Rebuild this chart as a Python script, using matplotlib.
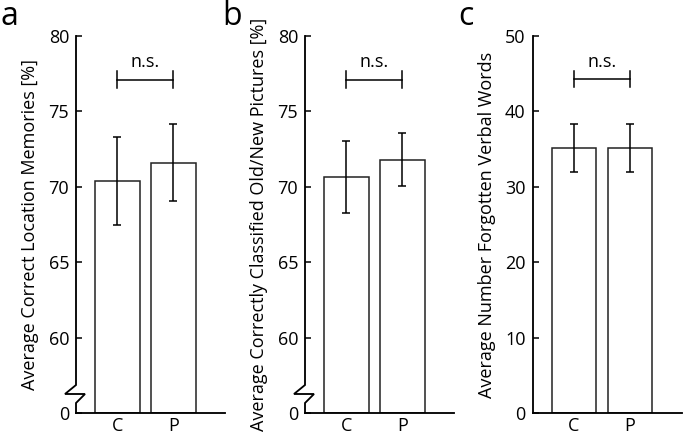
import matplotlib
matplotlib.use("Agg")
import matplotlib.pyplot as plt
import matplotlib.transforms as mtransforms

plt.rcParams['font.family'] = ['Open Sans', 'DejaVu Sans']

categories = ['C', 'P']

# Panel a
a_means = [70.4, 71.6]
a_errs = [2.9, 2.55]
a_ticks = [55, 60, 65, 70, 75, 80]
a_ticklabels = ['0', '60', '65', '70', '75', '80']
a_ylabel = 'Average Correct Location Memories [%]'
a_sig_y = 77.1

# Panel b
b_means = [70.65, 71.8]
b_errs = [2.4, 1.77]
b_ticks = [55, 60, 65, 70, 75, 80]
b_ticklabels = ['0', '60', '65', '70', '75', '80']
b_ylabel = 'Average Correctly Classified Old/New Pictures [%]'
b_sig_y = 77.1

# Panel c
c_means = [35.15, 35.1]
c_errs = [3.2, 3.2]
c_ticks = [0, 10, 20, 30, 40, 50]
c_ticklabels = ['0', '10', '20', '30', '40', '50']
c_ylabel = 'Average Number Forgotten Verbal Words'
c_sig_y = 44.3

W, H = 684, 436
fig = plt.figure(figsize=(W / 100, H / 100), dpi=100)

panels = [
    dict(letter='a', left=76, lx=0, means=a_means, errs=a_errs, ticks=a_ticks,
         labels=a_ticklabels, ylabel=a_ylabel, sig=a_sig_y, ylim=(55, 80), brk=True, cap=0.55),
    dict(letter='b', left=305, lx=222, means=b_means, errs=b_errs, ticks=b_ticks,
         labels=b_ticklabels, ylabel=b_ylabel, sig=b_sig_y, ylim=(55, 80), brk=True, cap=0.55),
    dict(letter='c', left=532.5, lx=458, means=c_means, errs=c_errs, ticks=c_ticks,
         labels=c_ticklabels, ylabel=c_ylabel, sig=c_sig_y, ylim=(0, 50), brk=False, cap=1.1),
]

ax_w = 149
ax_top = 36
ax_bot = 413
lw = 1.1
fs = 13

for p in panels:
    ax = fig.add_axes([p['left'] / W, (H - ax_bot) / H, ax_w / W, (ax_bot - ax_top) / H])
    x = [1, 2]
    y0 = p['ylim'][0]
    heights = [m - y0 for m in p['means']]
    ax.bar(x, heights, bottom=y0, width=0.8, color='white', edgecolor='#222222',
           linewidth=lw, zorder=2)
    ax.errorbar(x, p['means'], yerr=p['errs'], fmt='none', ecolor='black',
                elinewidth=lw, capsize=3.2, capthick=lw, zorder=3)
    # significance bracket
    ax.plot([x[0], x[1]], [p['sig'], p['sig']], color='black', lw=lw, clip_on=False)
    for xi in x:
        ax.plot([xi, xi], [p['sig'] - p['cap'], p['sig'] + p['cap']], color='black',
                lw=lw, clip_on=False)
    ax.text((x[0] + x[1]) / 2, p['sig'] + (p['ylim'][1] - p['ylim'][0]) * 0.022, 'n.s.',
            ha='center', va='bottom', fontsize=fs)

    ax.set_xlim(0.26, 2.92)
    ax.set_ylim(*p['ylim'])
    ax.set_xticks(x)
    ax.set_xticklabels(categories, fontsize=fs)
    ax.set_yticks(p['ticks'])
    ax.set_yticklabels(p['labels'], fontsize=fs)
    ax.tick_params(axis='y', direction='in', length=4, width=lw, pad=5)
    ax.tick_params(axis='x', length=0, pad=3)
    for s in ['top', 'right']:
        ax.spines[s].set_visible(False)
    ax.spines['bottom'].set_linewidth(lw * 1.2)
    ax.spines['left'].set_linewidth(lw * 1.2)
    ax.set_ylabel(p['ylabel'], fontsize=fs)
    ax.yaxis.set_label_coords(-37 / ax_w, 0.5)

    if p['brk']:
        ax.spines['left'].set_visible(False)
        pxu = (ax_bot - ax_top) / (p['ylim'][1] - p['ylim'][0])
        def yv(px):
            return p['ylim'][0] + (ax_bot - px) / pxu
        trans = mtransforms.blended_transform_factory(ax.transAxes, ax.transData)
        xs = [0, 0, -11 / ax_w, 9 / ax_w, 0, 0]
        ys = [p['ylim'][1], yv(385), yv(394), yv(394), yv(403), p['ylim'][0]]
        ax.plot(xs, ys, color='black', lw=lw * 1.2, transform=trans, clip_on=False,
                solid_joinstyle='miter')

    fig.text(p['lx'] / W, (H - 25) / H, p['letter'], fontsize=23, ha='left', va='baseline')

fig.savefig('out.png', dpi=100)
